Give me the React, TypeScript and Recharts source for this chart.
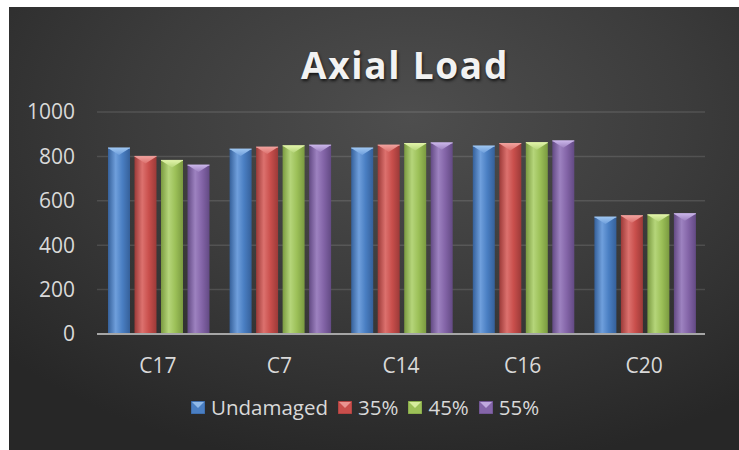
import { BarChart, Bar, XAxis, YAxis, CartesianGrid, Legend } from 'recharts'

const categories = ['C17', 'C7', 'C14', 'C16', 'C20']
const undamaged = [838, 833, 838, 847, 527]
const dmg35 = [800, 842, 851, 858, 533]
const dmg45 = [782, 848, 858, 862, 537]
const dmg55 = [761, 851, 861, 870, 542]
const yTicks = [0, 200, 400, 600, 800, 1000]

const series = [
  { key: 'undamaged', name: 'Undamaged', values: undamaged, base: '#4a7fc3', light: '#6f9fdc', dark: '#35609a', tip: '#9cc4f0' },
  { key: 'd35', name: '35%', values: dmg35, base: '#c94f4c', light: '#dc716e', dark: '#9c3a38', tip: '#f0a09c' },
  { key: 'd45', name: '45%', values: dmg45, base: '#9cc058', light: '#b5d57a', dark: '#7a9a40', tip: '#e0f3a8' },
  { key: 'd55', name: '55%', values: dmg55, base: '#8465a8', light: '#9d82c0', dark: '#634a84', tip: '#c9b4e8' },
]

const data = categories.map((c, i) => {
  const row: any = { name: c }
  series.forEach(s => { row[s.key] = s.values[i] })
  return row
})

const font = '"Open Sans", sans-serif'

// bar with a soft cylinder shading and a bevel triangle on top
const makeShape = (s: any) => (props: any) => {
  const { x, y, width, height } = props
  if (!height || height <= 0) return null
  const tri = Math.min(7, height)
  return (
    <g>
      <rect x={x} y={y} width={width} height={height} fill={`url(#grad-${s.key})`} />
      <polygon points={`${x},${y} ${x + width},${y} ${x + width / 2},${y + tri}`} fill={`url(#tip-${s.key})`} />
      <line x1={x} y1={y} x2={x + width} y2={y} stroke={s.tip} strokeWidth={1} />
    </g>
  )
}

const LegendIcon = ({ s }: { s: any }) => (
  <svg width={14} height={13} style={{ marginRight: 6, display: 'block' }}>
    <rect x={0} y={0} width={14} height={13} fill={s.base} stroke={s.dark} strokeWidth={1} />
    <polygon points="1,1 13,1 7,7" fill={s.tip} opacity={0.85} />
  </svg>
)

const renderLegend = () => (
  <div style={{ display: 'flex', alignItems: 'center', fontFamily: font, fontSize: 20.5, color: '#d9d9d9', lineHeight: '27px' }}>
    {series.map(s => (
      <div key={s.key} style={{ display: 'flex', alignItems: 'center', marginRight: 10 }}>
        <LegendIcon s={s} />
        <span>{s.name}</span>
      </div>
    ))}
  </div>
)

export default function App() {
  return (
    <div style={{ position: 'fixed', left: 0, top: 0, width: 739, height: 450, background: '#fff', overflow: 'hidden' }}>
      <style>{`html,body{margin:0;overflow:hidden}`}</style>
      <div
        style={{
          position: 'absolute',
          left: 9,
          top: 7,
          width: 730,
          height: 443,
          background: 'radial-gradient(ellipse 75% 80% at 55% 25%, #4e4e4e 0%, #3c3c3c 50%, #272727 100%)',
        }}
      >
        <div
          style={{
            position: 'absolute',
            left: 0,
            width: 792,
            top: 33,
            textAlign: 'center',
            fontFamily: font,
            fontWeight: 700,
            fontSize: 37,
            letterSpacing: 1.7,
            color: '#f2f2f2',
            textShadow: '1px 2px 3px rgba(0,0,0,0.7)',
            lineHeight: '50px',
          }}
        >
          Axial Load
        </div>
        <BarChart
          width={730}
          height={443}
          data={data}
          margin={{ top: 105, right: 34, left: 0, bottom: 86 }}
          barCategoryGap={11}
          barGap={4.5}
          style={{ position: 'absolute', left: 0, top: 0 }}
        >
          <defs>
            {series.map(s => (
              <linearGradient key={s.key} id={`grad-${s.key}`} x1="0" y1="0" x2="1" y2="0">
                <stop offset="0%" stopColor={s.dark} />
                <stop offset="35%" stopColor={s.light} />
                <stop offset="65%" stopColor={s.base} />
                <stop offset="100%" stopColor={s.dark} />
              </linearGradient>
            ))}
            {series.map(s => (
              <linearGradient key={s.key + 't'} id={`tip-${s.key}`} x1="0" y1="0" x2="0" y2="1">
                <stop offset="0%" stopColor={s.tip} />
                <stop offset="100%" stopColor={s.light} />
              </linearGradient>
            ))}
          </defs>
          <CartesianGrid vertical={false} stroke="rgba(255,255,255,0.12)" strokeWidth={1.5} />
          <XAxis
            dataKey="name"
            axisLine={{ stroke: '#a6a6a6', strokeWidth: 2 }}
            tickLine={false}
            tickSize={0}
            tickMargin={24}
            tick={{ fill: '#d9d9d9', fontSize: 21, fontFamily: font }}
          />
          <YAxis
            domain={[0, 1000]}
            ticks={yTicks}
            width={88}
            axisLine={false}
            tickLine={false}
            tickSize={0}
            tickMargin={22}
            tick={{ fill: '#d9d9d9', fontSize: 21, fontFamily: font }}
          />
          <Legend
            layout="horizontal"
            verticalAlign="middle"
            align="center"
            content={renderLegend}
            wrapperStyle={{ left: 182, top: 387, width: 420 }}
          />
          {series.map(s => (
            <Bar
              key={s.key}
              dataKey={s.key}
              name={s.name}
              fill={s.base}
              shape={makeShape(s)}
              isAnimationActive={false}
            />
          ))}
        </BarChart>
      </div>
    </div>
  )
}
